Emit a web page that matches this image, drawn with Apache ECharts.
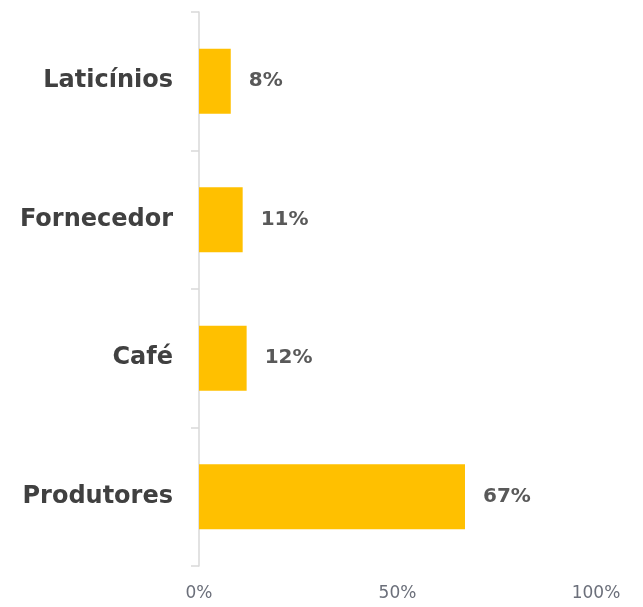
<!DOCTYPE html>
<html>
<head>
<meta charset="utf-8">
<script src="https://cdn.jsdelivr.net/npm/echarts@6/dist/echarts.min.js"></script>
<style>html,body{margin:0;padding:0;background:#fff;}#c{width:643px;height:607px;}</style>
</head>
<body>
<div id="c"></div>
<script>
const categories = ['Produtores', 'Café', 'Fornecedor', 'Laticínios'];
const values = [67, 12, 11, 8];
const xTicks = [0, 50, 100];

const chart = echarts.init(document.getElementById('c'));
chart.setOption({
  animation: false,
  grid: { left: 199, right: 47, top: 12, bottom: 41 },
  xAxis: {
    type: 'value', min: 0, max: 100, interval: 50,
    axisLine: { show: false }, axisTick: { show: false }, splitLine: { show: false },
    axisLabel: { formatter: v => xTicks.includes(v) ? v + '%' : '', color: '#6b6f7a', fontFamily: 'DejaVu Sans', fontSize: 17, margin: 19 }
  },
  yAxis: {
    type: 'category', data: categories,
    axisLine: { show: true, lineStyle: { color: '#d9d9d9', width: 1.5 } },
    axisTick: { show: true, length: 8, lineStyle: { color: '#d9d9d9', width: 1.5 } },
    axisLabel: { color: '#404040', fontFamily: 'DejaVu Sans', fontWeight: 'bold', fontSize: 24, margin: 26 }
  },
  series: [{
    type: 'bar', data: values, barCategoryGap: '53%',
    itemStyle: { color: '#FFC000' },
    label: { show: true, position: 'right', distance: 18, formatter: '{c}%', color: '#595959', fontFamily: 'DejaVu Sans', fontWeight: 'bold', fontSize: 20 }
  }]
});
</script>
</body>
</html>
